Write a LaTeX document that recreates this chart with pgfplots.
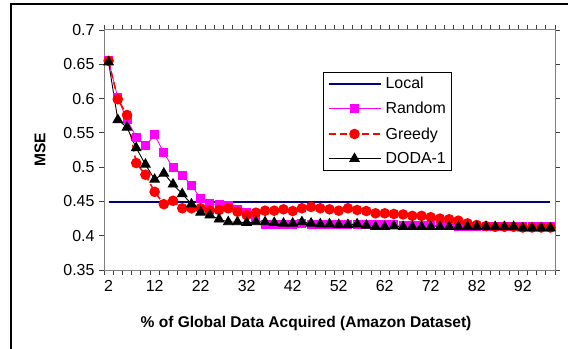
\documentclass[border=0pt]{standalone}
\usepackage{pgfplots}
\pgfplotsset{compat=1.18}
\usepackage{fontspec}
\setmainfont{Liberation Sans}
\definecolor{navyline}{RGB}{0,0,128}
\definecolor{axisgray}{RGB}{128,128,128}
\definecolor{pinkline}{RGB}{255,0,255}
\begin{document}
\begin{tikzpicture}
\path[use as bounding box] (0,0) rectangle (568bp,349bp);
\draw[line width=1.3bp,black] (11bp,-2bp) -- (11bp,345bp) -- (570bp,345bp);
\begin{axis}[
  at={(104bp,79bp)}, anchor=south west,
  scale only axis, width=451bp, height=240bp,
  xmin=1, xmax=99, ymin=0.35, ymax=0.7,
  xtick={2,12,...,92},
  xticklabels={2,12,22,32,42,52,62,72,82,92},
  minor xtick={1,3,...,99},
  ytick={0.35,0.4,0.45,0.5,0.55,0.6,0.65,0.7},
  yticklabels={0.35,0.4,0.45,0.5,0.55,0.6,0.65,0.7},
  tick align=outside,
  major tick length=5bp, minor tick length=5bp,
  major x tick style={draw=none},
  tick style={black!75, line width=0.8bp},
  axis line style={axisgray, line width=1bp},
  ticklabel style={font=\fontsize{16}{18}\selectfont},
  every x tick label/.append style={yshift=-2bp},
  every y tick label/.append style={xshift=-1bp},
  xlabel={\textbf{\% of Global Data Acquired (Amazon Dataset)}},
  ylabel={\textbf{MSE}},
  label style={font=\fontsize{15.6}{17}\selectfont},
  xlabel style={at={(axis description cs:0.448,-0.221)}, anchor=center},
  ylabel style={at={(axis description cs:-0.142,0.5)}, anchor=center, rotate=0},
  legend style={at={(axis description cs:0.4856,0.825)}, anchor=north west,
    draw=black, line width=0.8bp, fill=white, font=\fontsize{16}{18}\selectfont,
    inner xsep=4bp, inner ysep=3bp, row sep=8bp, column sep=2bp},
  legend cell align=left,
  legend image code/.code={\draw[mark repeat=2,mark phase=2,#1] plot coordinates {(0bp,0bp) (26bp,0bp) (52bp,0bp)};},
  clip=false,
]
\addplot[navyline, line width=2.2bp, mark=none] coordinates {(2,0.449) (98,0.449)};
\addlegendentry{Local}
\addplot[pinkline, line width=0.9bp, mark=square*, mark size=4bp, mark options={fill=pinkline}] coordinates {
(2,0.655) (4,0.601) (6,0.569) (8,0.544) (10,0.531) (12,0.547) (14,0.521) (16,0.499) (18,0.488) (20,0.474)
(22,0.454) (24,0.447) (26,0.445) (28,0.444) (30,0.438) (32,0.434) (34,0.426) (36,0.416) (38,0.416) (40,0.416)
(42,0.417) (44,0.418) (46,0.417) (48,0.417) (50,0.417) (52,0.416) (54,0.417) (56,0.417) (58,0.417) (60,0.416)
(62,0.416) (64,0.416) (66,0.415) (68,0.415) (70,0.415) (72,0.415) (74,0.415) (76,0.415) (78,0.414) (80,0.414)
(82,0.414) (84,0.414) (86,0.413) (88,0.413) (90,0.413) (92,0.413) (94,0.413) (96,0.413) (98,0.413)};
\addlegendentry{Random}
\addplot[red, line width=1.5bp, dash pattern=on 7bp off 4bp, mark=*, mark size=4.5bp, mark options={solid, fill=red}] coordinates {
(2,0.655) (4,0.599) (6,0.576) (8,0.506) (10,0.489) (12,0.464) (14,0.446) (16,0.451) (18,0.440) (20,0.440)
(22,0.440) (24,0.4365) (26,0.4375) (28,0.440) (30,0.435) (32,0.430) (34,0.4336) (36,0.4365) (38,0.4365) (40,0.4385)
(42,0.436) (44,0.440) (46,0.442) (48,0.440) (50,0.4385) (52,0.4365) (54,0.440) (56,0.4375) (58,0.436) (60,0.4327)
(62,0.4327) (64,0.4317) (66,0.431) (68,0.429) (70,0.429) (72,0.427) (74,0.425) (76,0.424) (78,0.422) (80,0.418)
(82,0.4156) (84,0.414) (86,0.413) (88,0.413) (90,0.413) (92,0.412) (94,0.412) (96,0.412) (98,0.412)};
\addlegendentry{Greedy}
\addplot[black, line width=0.9bp, mark=triangle*, mark size=5.5bp, mark options={fill=black}] coordinates {
(2,0.653) (4,0.569) (6,0.558) (8,0.528) (10,0.504) (12,0.482) (14,0.491) (16,0.475) (18,0.461) (20,0.446)
(22,0.434) (24,0.430) (26,0.424) (28,0.420) (30,0.420) (32,0.419) (34,0.420) (36,0.420) (38,0.419) (40,0.418)
(42,0.418) (44,0.420) (46,0.418) (48,0.417) (50,0.417) (52,0.416) (54,0.416) (56,0.417) (58,0.415) (60,0.413)
(62,0.413) (64,0.414) (66,0.413) (68,0.413) (70,0.413) (72,0.413) (74,0.413) (76,0.413) (78,0.413) (80,0.413)
(82,0.413) (84,0.413) (86,0.413) (88,0.413) (90,0.413) (92,0.411) (94,0.411) (96,0.411) (98,0.411)};
\addlegendentry{DODA-1}
\end{axis}
\end{tikzpicture}
\end{document}
